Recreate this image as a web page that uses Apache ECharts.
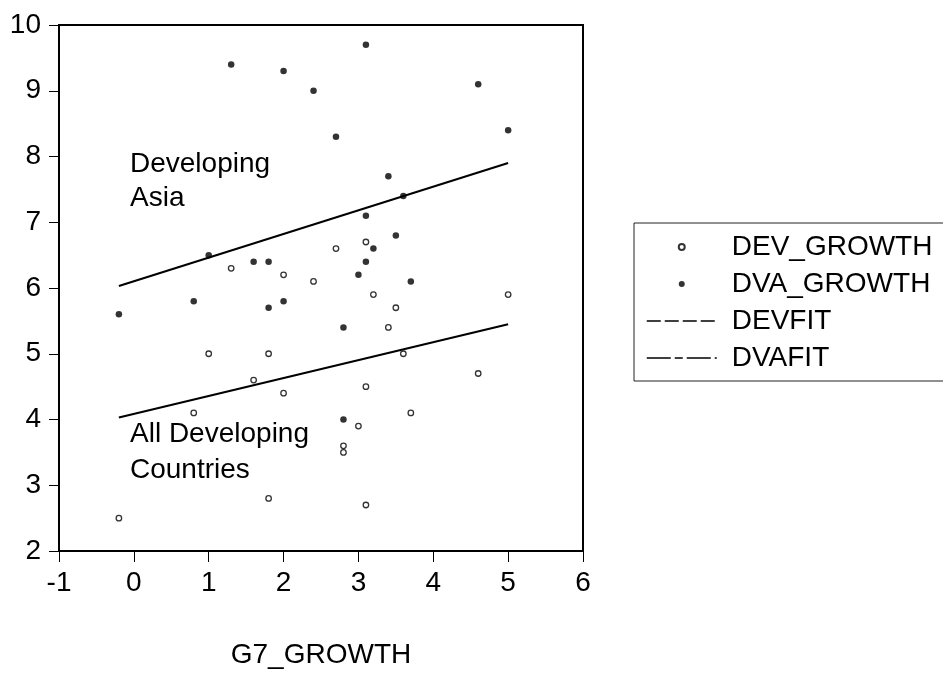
<!DOCTYPE html>
<html>
<head>
<meta charset="utf-8">
<script src="https://cdn.jsdelivr.net/npm/echarts@6/dist/echarts.min.js"></script>
<style>
  html, body { margin: 0; padding: 0; background: #fff; }
  #chart { width: 943px; height: 674px; }
</style>
</head>
<body>
<div id="chart"></div>
<script>
  // G7 growth (x), shared by both scatter series
  const g7Growth = [-0.2, 0.8, 1.0, 1.3, 1.6, 1.8, 1.8, 2.0, 2.0, 2.4, 2.7, 2.8,
    2.8, 3.0, 3.1, 3.1, 3.1, 3.2, 3.4, 3.5, 3.6, 3.7, 4.6, 5.0];
  // all developing countries
  const devGrowth = [2.5, 4.1, 5.0, 6.3, 4.6, 5.0, 2.8, 6.2, 4.4, 6.1, 6.6, 3.6,
    3.5, 3.9, 6.7, 4.5, 2.7, 5.9, 5.4, 5.7, 5.0, 4.1, 4.7, 5.9];
  // developing Asia
  const dvaGrowth = [5.6, 5.8, 6.5, 9.4, 6.4, 6.4, 5.7, 9.3, 5.8, 9.0, 8.3, 5.4,
    4.0, 6.2, 9.7, 7.1, 6.4, 6.6, 7.7, 6.8, 7.4, 6.1, 9.1, 8.4];
  // fitted lines (end points)
  const fitX = [-0.2, 5.0];
  const devFit = [4.03, 5.45];
  const dvaFit = [6.03, 7.90];

  const xTicks = { min: -1, max: 6, step: 1 };
  const yTicks = { min: 2, max: 10, step: 1 };

  const FONT = '"Liberation Sans", Arial, Helvetica, sans-serif';

  const pairs = (xs, ys) => xs.map((x, i) => [x, ys[i]]);

  const chart = echarts.init(document.getElementById('chart'), null, { renderer: 'canvas' });

  const option = {
    animation: false,
    backgroundColor: '#fff',
    textStyle: { fontFamily: FONT, color: '#000' },
    grid: {
      left: 59,
      top: 25,
      width: 524,
      height: 527,
      show: true,
      borderColor: '#000',
      borderWidth: 2,
      containLabel: false,
    },
    xAxis: {
      type: 'value',
      min: xTicks.min,
      max: xTicks.max,
      interval: xTicks.step,
      name: 'G7_GROWTH',
      nameLocation: 'middle',
      nameGap: 90,
      nameTextStyle: { fontSize: 28, color: '#000', fontFamily: FONT },
      axisLine: { show: true, onZero: false, lineStyle: { color: '#000', width: 2 } },
      axisTick: { show: true, inside: false, length: 11, lineStyle: { color: '#000', width: 1 } },
      axisLabel: { fontSize: 28, color: '#000', margin: 18, fontFamily: FONT },
      splitLine: { show: false },
    },
    yAxis: {
      type: 'value',
      min: yTicks.min,
      max: yTicks.max,
      interval: yTicks.step,
      axisLine: { show: true, onZero: false, lineStyle: { color: '#000', width: 2 } },
      axisTick: { show: true, inside: false, length: 10, lineStyle: { color: '#000', width: 1 } },
      axisLabel: { fontSize: 28, color: '#000', margin: 18, padding: [0, 0, 12, 0], fontFamily: FONT },
      splitLine: { show: false },
    },
    legend: {
      orient: 'vertical',
      left: 634,
      top: 223,
      padding: [9, 40, 8, 12],
      itemWidth: 70,
      itemHeight: 6,
      itemGap: 7,
      borderColor: '#222',
      borderWidth: 1,
      backgroundColor: '#fff',
      selectedMode: false,
      textStyle: { fontSize: 28, lineHeight: 30, color: '#000', fontFamily: FONT, padding: [0, 0, 0, 10] },
      data: [
        { name: 'DEV_GROWTH', icon: 'circle' },
        { name: 'DVA_GROWTH', icon: 'circle' },
        { name: 'DEVFIT', itemStyle: { opacity: 0 }, lineStyle: { type: [14, 4], width: 1.5, color: '#000' } },
        { name: 'DVAFIT', itemStyle: { opacity: 0 }, lineStyle: { type: [24, 4, 8, 4], width: 1.5, color: '#000' } },
      ],
    },
    series: [
      {
        name: 'DEVFIT',
        type: 'line',
        data: pairs(fitX, devFit),
        symbol: 'none',
        z: 2,
        itemStyle: { color: '#000' },
        lineStyle: { color: '#000', width: 2 },
      },
      {
        name: 'DVAFIT',
        type: 'line',
        data: pairs(fitX, dvaFit),
        symbol: 'none',
        z: 2,
        itemStyle: { color: '#000' },
        lineStyle: { color: '#000', width: 2 },
      },
      {
        name: 'DEV_GROWTH',
        type: 'scatter',
        data: pairs(g7Growth, devGrowth),
        symbol: 'circle',
        symbolSize: 5.5,
        z: 3,
        itemStyle: { color: '#fff', borderColor: '#000', borderWidth: 1.3 },
      },
      {
        name: 'DVA_GROWTH',
        type: 'scatter',
        data: pairs(g7Growth, dvaGrowth),
        symbol: 'circle',
        symbolSize: 6.5,
        z: 3,
        itemStyle: { color: '#000', borderWidth: 0 },
      },
    ],
    graphic: [
      {
        type: 'text',
        left: 130,
        top: 147,
        style: { text: 'Developing\nAsia', font: '28px ' + FONT, fill: '#000', lineHeight: 34 },
      },
      {
        type: 'text',
        left: 130,
        top: 416,
        style: { text: 'All Developing\nCountries', font: '28px ' + FONT, fill: '#000', lineHeight: 36 },
      },
    ],
  };

  chart.setOption(option);
</script>
</body>
</html>
